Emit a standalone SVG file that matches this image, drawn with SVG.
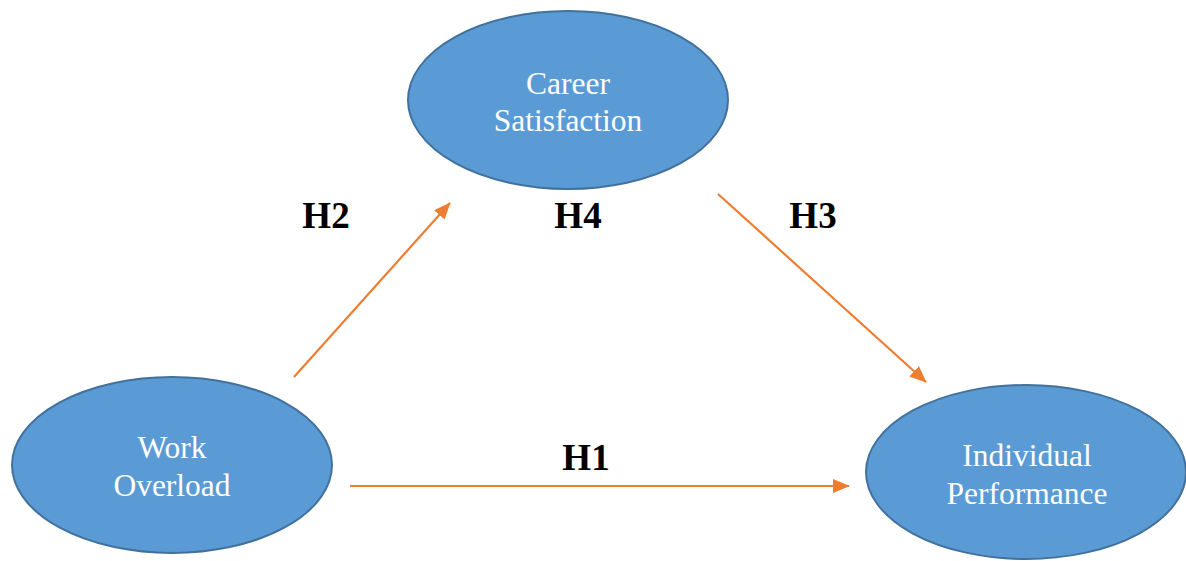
<svg xmlns="http://www.w3.org/2000/svg" width="1186" height="561" viewBox="0 0 1186 561">
<style>
.node{fill:#5B9BD5;stroke:#41719C;stroke-width:2}
.nt{font-family:"Liberation Serif",serif;font-size:31.5px;fill:#ffffff;text-anchor:middle}
.lbl{font-family:"Liberation Serif",serif;font-size:37px;font-weight:bold;fill:#000000;text-anchor:middle}
.edge{stroke:#ED7D31;stroke-width:2.2;fill:none}
</style>
<defs>
<marker id="ah" markerUnits="userSpaceOnUse" markerWidth="18" markerHeight="14" refX="16" refY="7" orient="auto">
<path d="M0,0 L17,7 L0,14 Z" fill="#ED7D31"/>
</marker>
</defs>
<rect width="1186" height="561" fill="#ffffff"/>
<g id="connectors">
<line class="edge" x1="294" y1="377" x2="450" y2="203" marker-end="url(#ah)"/>
<line class="edge" x1="718" y1="194" x2="926" y2="382" marker-end="url(#ah)"/>
<line class="edge" x1="350" y1="486" x2="849" y2="486" marker-end="url(#ah)"/>
</g>
<g id="career">
<ellipse class="node" cx="568" cy="100" rx="160" ry="89"/>
<text class="nt" x="568" y="94">Career</text>
<text class="nt" x="568" y="131">Satisfaction</text>
</g>
<g id="work">
<ellipse class="node" cx="172" cy="465" rx="160" ry="88"/>
<text class="nt" x="172" y="458">Work</text>
<text class="nt" x="172" y="496">Overload</text>
</g>
<g id="perf">
<ellipse class="node" cx="1026" cy="472" rx="160" ry="87"/>
<text class="nt" x="1027" y="466">Individual</text>
<text class="nt" x="1027" y="504">Performance</text>
</g>
<g id="labels">
<text class="lbl" x="326" y="228">H2</text>
<text class="lbl" x="578" y="228">H4</text>
<text class="lbl" x="813" y="228">H3</text>
<text class="lbl" x="586" y="470">H1</text>
</g>
</svg>
